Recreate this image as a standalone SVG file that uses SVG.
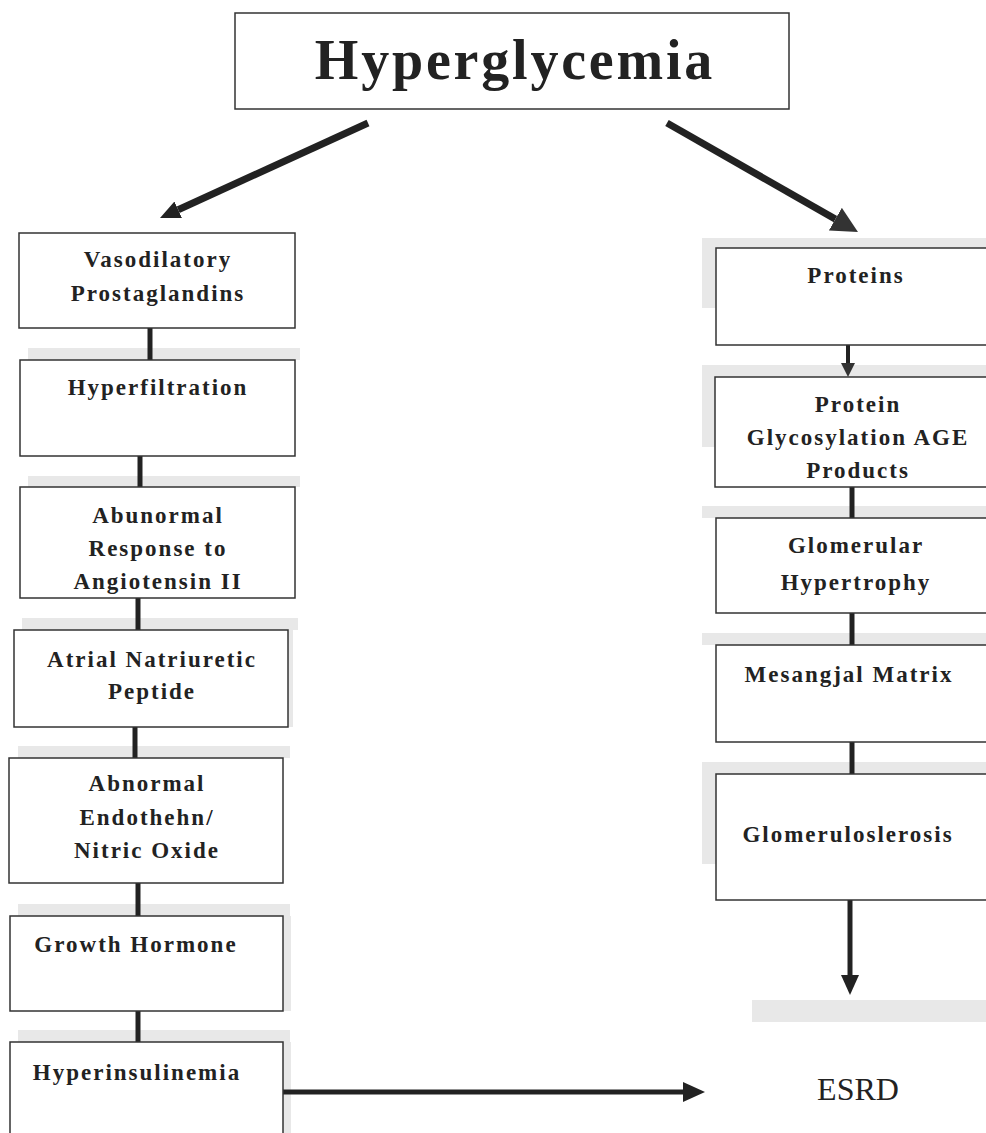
<svg xmlns="http://www.w3.org/2000/svg" width="986" height="1133" viewBox="0 0 986 1133">
<style>
.box{fill:#fff;stroke:#333;stroke-width:1.5}
.sh{fill:#e8e8e8}
.t{font-family:"Liberation Serif","Times New Roman",serif;font-weight:bold;font-size:23px;letter-spacing:2px;fill:#222;text-anchor:middle}
.title{font-family:"Liberation Serif","Times New Roman",serif;font-weight:bold;font-size:56px;letter-spacing:2.8px;fill:#222;text-anchor:middle}
.esrd{font-family:"Liberation Serif","Times New Roman",serif;font-size:32px;fill:#222;text-anchor:middle}
.c{stroke:#222;fill:none}
</style>
<defs>
<marker id="head" markerUnits="userSpaceOnUse" markerWidth="22" markerHeight="20" refX="0" refY="10" orient="auto" viewBox="0 0 22 20">
<path d="M0,0 L22,10 L0,20 z" fill="#222"/>
</marker>
<marker id="head-big" markerUnits="userSpaceOnUse" markerWidth="26" markerHeight="26" refX="0" refY="13" orient="auto" viewBox="0 0 26 26">
<path d="M0,0 L26,13 L0,26 z" fill="#333"/>
</marker>
<marker id="head-sm" markerUnits="userSpaceOnUse" markerWidth="14" markerHeight="14" refX="0" refY="7" orient="auto" viewBox="0 0 14 14">
<path d="M0,0 L14,7 L0,14 z" fill="#333"/>
</marker>
<marker id="head-mid" markerUnits="userSpaceOnUse" markerWidth="20" markerHeight="18" refX="0" refY="9" orient="auto" viewBox="0 0 20 18">
<path d="M0,0 L20,9 L0,18 z" fill="#222"/>
</marker>
</defs>
<rect width="986" height="1133" fill="#fff"/>

<g id="shadows">
<rect class="sh" x="28" y="348" width="272" height="12"/>
<rect class="sh" x="28" y="476" width="272" height="11"/>
<rect class="sh" x="22" y="618" width="276" height="12"/>
<rect class="sh" x="283" y="630" width="10" height="97"/>
<rect class="sh" x="18" y="746" width="272" height="12"/>
<rect class="sh" x="18" y="904" width="272" height="12"/>
<rect class="sh" x="283" y="916" width="8" height="95"/>
<rect class="sh" x="18" y="1030" width="272" height="12"/>
<rect class="sh" x="283" y="1042" width="8" height="91"/>
<rect class="sh" x="702" y="238" width="284" height="10"/>
<rect class="sh" x="702" y="248" width="14" height="60"/>
<rect class="sh" x="702" y="365" width="284" height="12"/>
<rect class="sh" x="702" y="377" width="14" height="70"/>
<rect class="sh" x="702" y="506" width="284" height="12"/>
<rect class="sh" x="702" y="633" width="284" height="12"/>
<rect class="sh" x="702" y="762" width="284" height="12"/>
<rect class="sh" x="702" y="774" width="14" height="90"/>
<rect class="sh" x="752" y="1000" width="234" height="22"/>
</g>

<g id="connectors">
<line class="c" x1="368" y1="123" x2="178.2" y2="209.7" stroke-width="7" marker-end="url(#head-mid)"/>
<line class="c" x1="667" y1="123" x2="835.4" y2="219.1" stroke-width="7" marker-end="url(#head-big)"/>
<line class="c" x1="150" y1="328" x2="150" y2="360" stroke-width="5"/>
<line class="c" x1="140" y1="456" x2="140" y2="487" stroke-width="5"/>
<line class="c" x1="138" y1="598" x2="138" y2="630" stroke-width="5"/>
<line class="c" x1="135" y1="727" x2="135" y2="758" stroke-width="5"/>
<line class="c" x1="138" y1="883" x2="138" y2="916" stroke-width="5"/>
<line class="c" x1="138" y1="1011" x2="138" y2="1042" stroke-width="5"/>
<line class="c" x1="283" y1="1092" x2="683" y2="1092" stroke-width="5" marker-end="url(#head)"/>
<line class="c" x1="848" y1="345" x2="848" y2="363" stroke-width="4" marker-end="url(#head-sm)"/>
<line class="c" x1="852" y1="487" x2="852" y2="518" stroke-width="5"/>
<line class="c" x1="852" y1="613" x2="852" y2="645" stroke-width="5"/>
<line class="c" x1="852" y1="742" x2="852" y2="774" stroke-width="5"/>
<line class="c" x1="850" y1="900" x2="850" y2="975" stroke-width="5" marker-end="url(#head-mid)"/>
</g>

<g id="n-hyperglycemia">
<rect class="box" x="235" y="13" width="554" height="96"/>
<text class="title" x="515" y="79">Hyperglycemia</text>
</g>

<g id="n-vasodilatory">
<rect class="box" x="19" y="233" width="276" height="95"/>
<text class="t" x="158" y="267">Vasodilatory</text>
<text class="t" x="158" y="301">Prostaglandins</text>
</g>
<g id="n-hyperfiltration">
<rect class="box" x="20" y="360" width="275" height="96"/>
<text class="t" x="158" y="395">Hyperfiltration</text>
</g>
<g id="n-angiotensin">
<rect class="box" x="20" y="487" width="275" height="111"/>
<text class="t" x="158" y="523">Abunormal</text>
<text class="t" x="158" y="556">Response to</text>
<text class="t" x="158" y="589">Angiotensin II</text>
</g>
<g id="n-anp">
<rect class="box" x="14" y="630" width="274" height="97"/>
<text class="t" x="152" y="667">Atrial Natriuretic</text>
<text class="t" x="152" y="699">Peptide</text>
</g>
<g id="n-endothelin">
<rect class="box" x="9" y="758" width="274" height="125"/>
<text class="t" x="147" y="791">Abnormal</text>
<text class="t" x="147" y="825">Endothehn/</text>
<text class="t" x="147" y="858">Nitric Oxide</text>
</g>
<g id="n-growth">
<rect class="box" x="10" y="916" width="273" height="95"/>
<text class="t" x="136" y="952">Growth Hormone</text>
</g>
<g id="n-hyperinsulinemia">
<rect class="box" x="10" y="1042" width="273" height="100"/>
<text class="t" x="137" y="1080">Hyperinsulinemia</text>
</g>

<g id="n-proteins">
<rect class="box" x="716" y="248" width="275" height="97"/>
<text class="t" x="856" y="283">Proteins</text>
</g>
<g id="n-glycosylation">
<rect class="box" x="715" y="377" width="276" height="110"/>
<text class="t" x="858" y="412">Protein</text>
<text class="t" x="858" y="445">Glycosylation AGE</text>
<text class="t" x="858" y="478">Products</text>
</g>
<g id="n-hypertrophy">
<rect class="box" x="716" y="518" width="275" height="95"/>
<text class="t" x="856" y="553">Glomerular</text>
<text class="t" x="856" y="590">Hypertrophy</text>
</g>
<g id="n-mesangial">
<rect class="box" x="716" y="645" width="275" height="97"/>
<text class="t" x="849" y="682">Mesangjal Matrix</text>
</g>
<g id="n-glomerulosclerosis">
<rect class="box" x="716" y="774" width="275" height="126"/>
<text class="t" x="848" y="842">Glomeruloslerosis</text>
</g>
<g id="n-esrd">
<text class="esrd" x="858" y="1100">ESRD</text>
</g>
</svg>
